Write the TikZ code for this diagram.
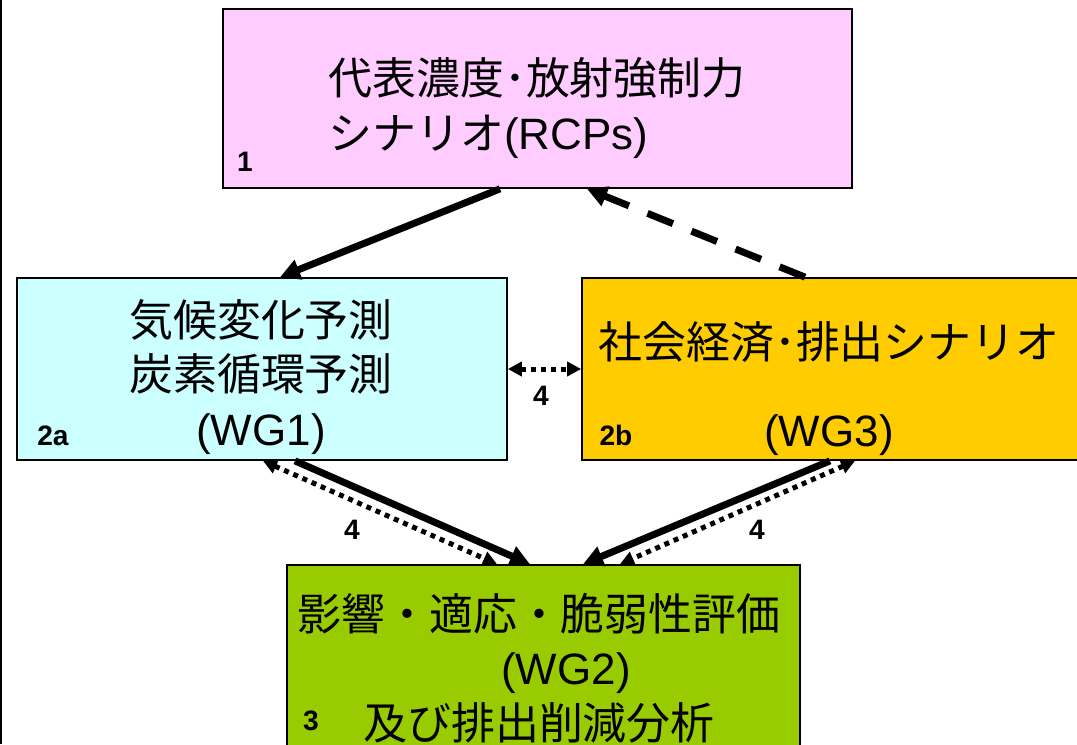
\documentclass[tikz,border=0pt]{standalone}
\usepackage{fontspec}
\setmainfont{Liberation Sans}
\newfontfamily\jp{Noto Sans CJK JP}
\usepackage{tikz}
\usetikzlibrary{arrows.meta}

\definecolor{rcppink}{HTML}{FFCCFF}
\definecolor{wgcyan}{HTML}{CCFFFF}
\definecolor{wgorange}{HTML}{FFCC00}
\definecolor{wggreen}{HTML}{99CC00}

\begin{document}
\begin{tikzpicture}[x=0.02cm, y=-0.02cm]
			\tikzstyle{box} = [draw, line width=1pt, inner sep=0pt]
			\tikzstyle{big} = [font=\fontsize{25}{31}\selectfont, inner sep=0pt]
			\tikzstyle{num} = [font=\fontsize{16}{16}\selectfont\bfseries, inner sep=0pt]
			\tikzstyle{flow} = [line width=0.14cm, -{Triangle[length=0.4cm, width=0.4cm]}]
			\tikzstyle{back} = [flow, dash pattern=on 0.55cm off 0.4cm]
			\tikzstyle{link} = [line width=0.1cm, dash pattern=on 0.1cm off 0.1cm,
				{Triangle[length=0.28cm, width=0.28cm]}-{Triangle[length=0.28cm, width=0.28cm]}]

			\path[use as bounding box] (0,0) rectangle (1077,744);
			\clip (0,0) rectangle (1077,744);
			\fill[white] (0,0) rectangle (1077,744);
			\draw[line width=0.04cm] (1,0) -- (1,744);

			% boxes
			\node[box, fill=rcppink, minimum width=12.58cm, minimum height=3.58cm] (rcp) at (537.5,98.5) {};
			\node[box, fill=wgcyan, minimum width=9.8cm, minimum height=3.64cm] (wg1) at (262,369) {};
			\node[box, fill=wgorange, minimum width=10.16cm, minimum height=3.64cm] (wg3) at (836,369) {};
			\node[box, fill=wggreen, minimum width=10.26cm, minimum height=4.3cm] (wg2) at (543.5,672.5) {};

			% texts
			\node[big, align=left] (rcptext) at (537,108)
				{{\jp 代表濃度･放射強制力}\\{\jp シナリオ}(RCPs)};
			\node[big, align=center] (wg1text) at (261,377)
				{{\jp 気候変化予測}\\{\jp 炭素循環予測}\\(WG1)};
			\node[big, align=center] (wg3text) at (829,389)
				{{\jp 社会経済･排出シナリオ}\\[19pt](WG3)};
			\node[big, align=center] (wg2text) at (539,668)
				{{\jp 影響・適応・脆弱性評価}\\\hspace*{1.08cm}(WG2)\\{\jp 及び排出削減分析}};

			\node[num] (n1) at (245,162) {1};
			\node[num] (n2a) at (53,436) {2a};
			\node[num] (n2b) at (616,435) {2b};
			\node[num] (n3) at (311,721) {3};
			\node[num] (n4a) at (541,396) {4};
			\node[num] (n4b) at (352,530) {4};
			\node[num] (n4c) at (757,530) {4};

			\path
			([xshift=-0.75cm]rcp.south) edge[flow] ([xshift=0.36cm]wg1.north)
			([xshift=-0.62cm]wg3.north) edge[back] ([xshift=0.99cm]rcp.south)
			(wg1.east) edge[link] (wg3.west)
			([xshift=0.66cm]wg1.south) edge[flow] ([xshift=-0.27cm]wg2.north)
			([xshift=0.02cm]wg1.south) edge[link] ([xshift=-0.93cm]wg2.north)
			([xshift=-0.12cm]wg3.south) edge[flow] ([xshift=0.79cm]wg2.north)
			([xshift=0.38cm]wg3.south) edge[link] ([xshift=1.53cm]wg2.north)
			;
\end{tikzpicture}
\end{document}
